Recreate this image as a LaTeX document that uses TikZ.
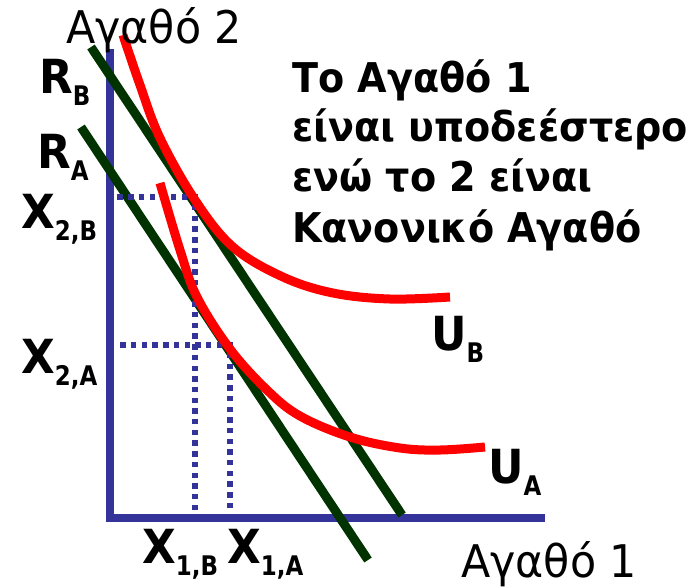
\documentclass[tikz,border=0pt]{standalone}
\usepackage{fontspec}
\setmainfont{DejaVu Sans}[FakeStretch=0.95]
\newfontfamily\boldsans{DejaVu Sans Bold}[FakeStretch=0.93]
\newfontfamily\subsans{DejaVu Sans Bold}[FakeStretch=0.85]
\definecolor{axisblue}{HTML}{333399}
\definecolor{budgetgreen}{HTML}{003300}
\definecolor{curvered}{HTML}{FF0000}
\newcommand{\biglab}[2]{{\boldsans\fontsize{47}{47}\selectfont #1\raisebox{-12pt}{\subsans\fontsize{27}{27}\selectfont #2}}}
\begin{document}
\begin{tikzpicture}[x=1pt,y=-1pt,
  axisline/.style={draw=axisblue,line width=7.5pt},
  budget/.style={draw=budgetgreen,line width=9pt},
  icurve/.style={draw=curvered,line width=9pt},
  guidedot/.style={fill=axisblue},
  lab/.style={inner sep=0pt,anchor=base west},
  note/.style={inner sep=0pt,anchor=base west,font=\boldsans\fontsize{41}{41}\selectfont},
  axlab/.style={inner sep=0pt,anchor=base west,font=\fontsize{45}{45}\selectfont}]
\useasboundingbox (0,0) rectangle (698,587);
% axes
\coordinate (ytop) at (110,49);
\coordinate (orig) at (110,518);
\coordinate (xend) at (545,518);
\draw[axisline] (ytop) -- (110,521.75);
\draw[axisline] (106.25,518) -- (xend);
% budget lines
\coordinate (bB1) at (91,47);
\coordinate (bB2) at (402,515);
\coordinate (bA1) at (81,127);
\coordinate (bA2) at (368,560);
\draw[budget] (bB1) -- (bB2);
\draw[budget] (bA1) -- (bA2);
% dotted guide lines (square dots)
\foreach \i in {0,...,8} \fill[guidedot] (195-2.7-\i*10.7,197-2.7) rectangle +(5.4,5.4);
\foreach \i in {1,...,29} \fill[guidedot] (195-2.7,197-2.7+\i*10.7) rectangle +(5.4,5.4);
\foreach \i in {0,...,10} \fill[guidedot] (230-2.7-\i*10.7,345-2.7) rectangle +(5.4,5.4);
\foreach \i in {1,...,15} \fill[guidedot] (230-2.7,345-2.7+\i*10.7) rectangle +(5.4,5.4);
% indifference curves
\draw[icurve] plot[smooth,tension=0.6] coordinates {(123,35) (140,85) (160,138) (195,200) (233,247) (283,277) (333,293) (390,299) (450,297)};
\draw[icurve] plot[smooth,tension=0.6] coordinates {(160,183) (180,250) (197,297) (230,349) (267,390) (300,416) (350,437) (400,448) (440,450) (485,447)};
% labels
\node[axlab] (ylab) at (66,43) {Αγαθό 2};
\node[axlab] (xlab) at (461,577) {Αγαθό 1};
\node[lab] (RB) at (39,93) {\biglab{R}{B}};
\node[lab] (RA) at (37,168) {\biglab{R}{A}};
\node[lab] (X2B) at (21,228) {\biglab{X}{2,B}};
\node[lab] (X2A) at (21,373) {\biglab{X}{2,A}};
\node[lab] (X1B) at (142,563) {\biglab{X}{1,B}};
\node[lab] (X1A) at (227,563) {\biglab{X}{1,A}};
\node[lab] (UB) at (431,350) {\biglab{U}{B}};
\node[lab] (UA) at (488,483) {\biglab{U}{A}};
\node[note] (n1) at (292,92) {Το Αγαθό 1};
\node[note] (n2) at (292,141) {είναι υποδεέστερο};
\node[note] (n3) at (292,191) {ενώ το 2 είναι};
\node[note] (n4) at (292,242) {Κανονικό Αγαθό};
\end{tikzpicture}
\end{document}
